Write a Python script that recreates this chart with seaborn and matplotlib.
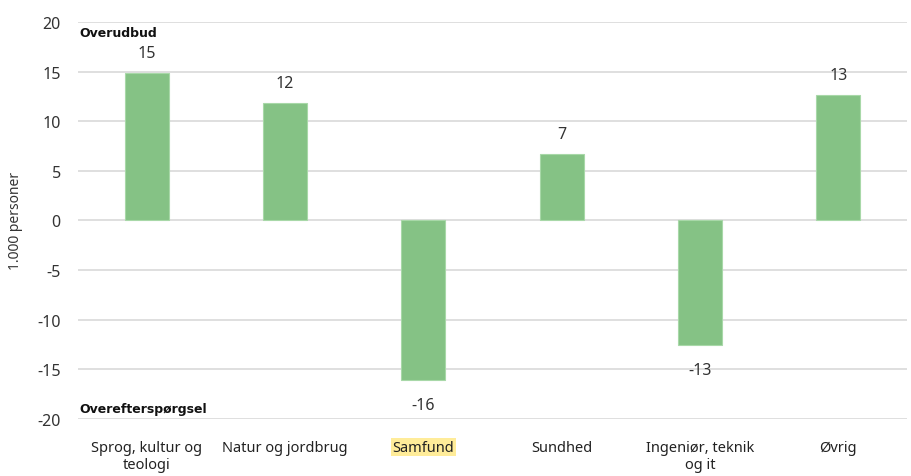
import matplotlib
matplotlib.use("Agg")
import matplotlib.pyplot as plt
import seaborn as sns
import pandas as pd

# Data (1.000 personer)
categories = ["Sprog, kultur og\nteologi", "Natur og jordbrug", "Samfund",
              "Sundhed", "Ingeniør, teknik\nog it", "Øvrig"]
values = [14.8, 11.8, -16.1, 6.7, -12.6, 12.6]
y_ticks = [-20, -15, -10, -5, 0, 5, 10, 15, 20]

sns.set_theme(style="white")
plt.rcParams["font.family"] = ["Noto Sans", "DejaVu Sans"]

df = pd.DataFrame({"Kategori": categories, "Værdi": values})

fig = plt.figure(figsize=(9.12, 4.77), dpi=100)
ax = fig.add_axes([0.085, 0.12, 0.91, 0.832])

sns.barplot(data=df, x="Kategori", y="Værdi", color="#85C285", width=0.32,
            saturation=1, edgecolor="#A8D8A8", linewidth=0.8, ax=ax, zorder=3)

ax.set_ylim(-20, 20)
ax.set_yticks(y_ticks)
ax.set_yticklabels([str(t) for t in y_ticks], fontsize=11.5, color="#333333")
ax.yaxis.grid(True, color="#D9D9D9", linewidth=1.2, zorder=0)
ax.set_axisbelow(True)
for s in ax.spines.values():
    s.set_visible(False)
ax.tick_params(axis="y", length=0, pad=12)
ax.tick_params(axis="x", length=0, pad=15)
ax.set_xlabel("")
ax.set_ylabel("1.000 personer", fontsize=10, color="#333333", labelpad=10)

# x tick labels, with highlighted "Samfund"
for lbl in ax.get_xticklabels():
    lbl.set_fontsize(10.5)
    lbl.set_color("#222222")
    if lbl.get_text() == "Samfund":
        lbl.set_bbox(dict(facecolor="#FFEC99", edgecolor="none", pad=1.0))

# value labels
for p, v in zip(ax.patches, values):
    x = p.get_x() + p.get_width() / 2
    off = 14.5 if v >= 0 else -18
    ax.annotate(f"{v:.0f}", (x, v), xytext=(0, off), textcoords="offset points",
                ha="center", va="center", fontsize=11.5, color="#333333")

ax.text(0.002, 0.973, "Overudbud", transform=ax.transAxes, fontsize=9,
        family="DejaVu Sans", fontweight="bold", color="#111111",
        va="center", ha="left")
ax.text(0.002, 0.027, "Overefterspørgsel", transform=ax.transAxes, fontsize=9,
        family="DejaVu Sans", fontweight="bold", color="#111111",
        va="center", ha="left")

ax.set_xlim(-0.5, 5.5)
fig.savefig("out.png", dpi=100)
